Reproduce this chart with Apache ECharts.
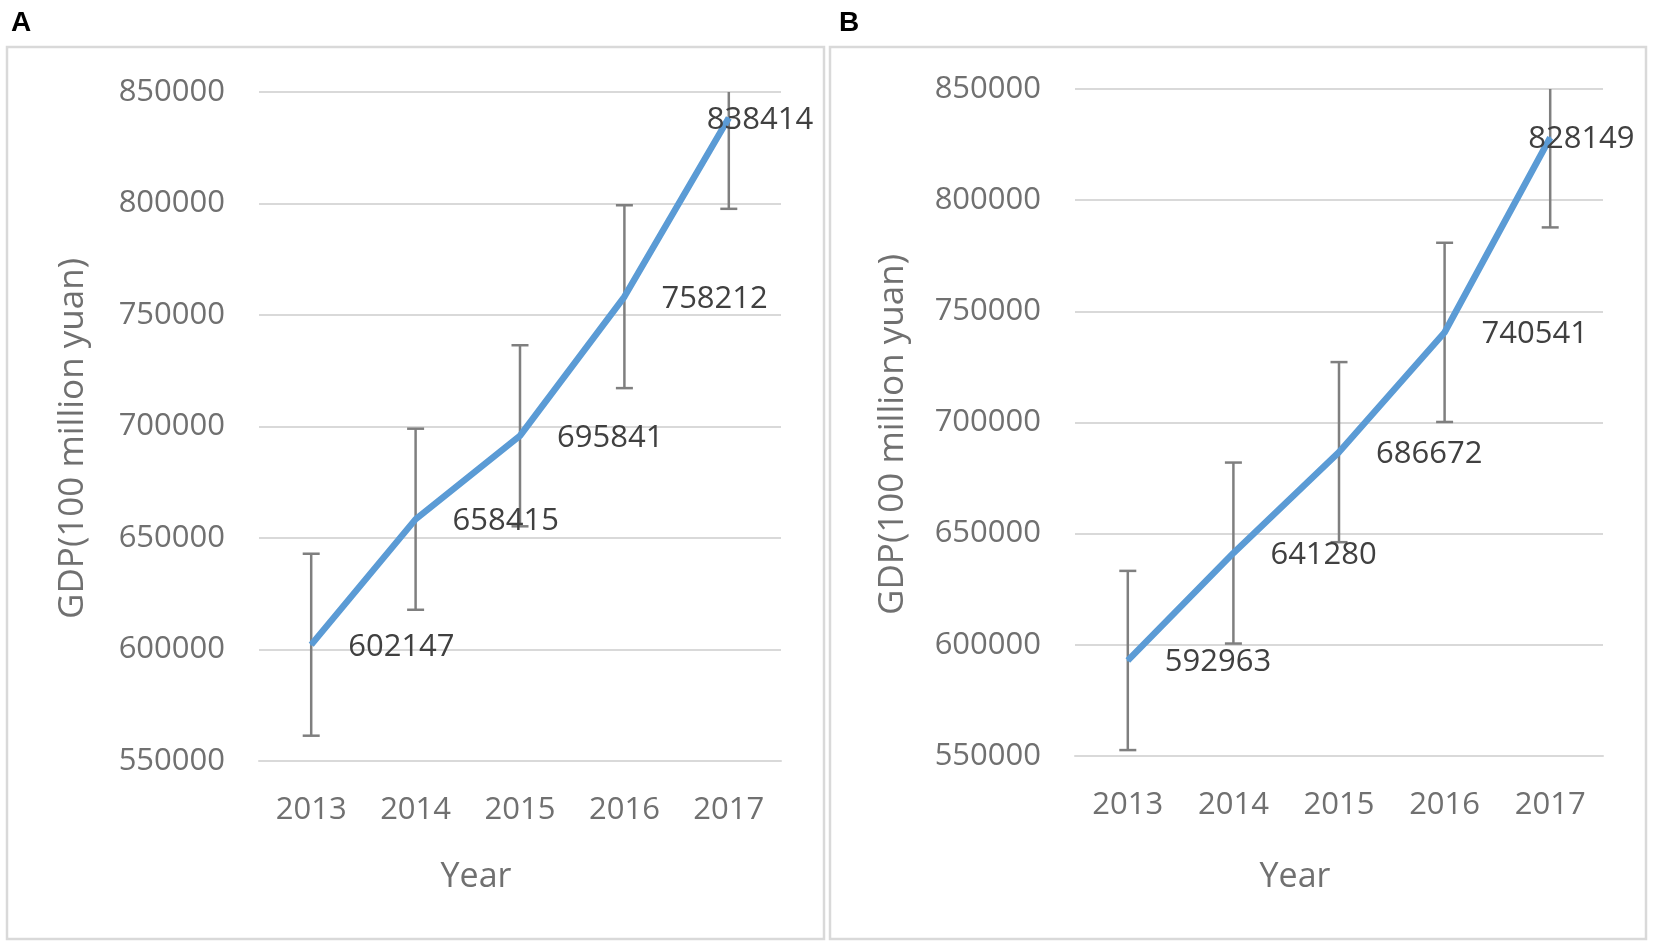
<!DOCTYPE html>
<html>
<head>
<meta charset="utf-8">
<script src="https://cdn.jsdelivr.net/npm/echarts@6/dist/echarts.min.js"></script>
<style>
  html, body { margin: 0; padding: 0; background: #fff; }
  #chart { width: 1654px; height: 946px; }
</style>
</head>
<body>
<div id="chart"></div>
<script>
// data
var years = ['2013', '2014', '2015', '2016', '2017'];
var gdpA = [602147, 658415, 695841, 758212, 838414];
var gdpB = [592963, 641280, 686672, 740541, 828149];
// half length of the error bars
var errA = [40800, 40600, 40600, 41000, 40800];
var errB = [40300, 40700, 40500, 40300, 40400];
var yMin = 550000, yMax = 850000, yStep = 50000;

var font = '"Open Sans", "Noto Sans", sans-serif';
var tickColor = '#707070';
var gridColor = '#d9d9d9';

function errData(vals, errs) {
  return vals.map(function (v, i) { return [i, v - errs[i], v + errs[i]]; });
}

function renderErr(params, api) {
  var lo = api.coord([api.value(0), api.value(1)]);
  var hi = api.coord([api.value(0), api.value(2)]);
  var half = 8.5;
  var st = { stroke: '#7f7f7f', lineWidth: 2.5 };
  return {
    type: 'group',
    children: [
      { type: 'line', shape: { x1: lo[0], y1: lo[1], x2: hi[0], y2: hi[1] }, style: st },
      { type: 'line', shape: { x1: lo[0] - half, y1: lo[1], x2: lo[0] + half, y2: lo[1] }, style: st },
      { type: 'line', shape: { x1: hi[0] - half, y1: hi[1], x2: hi[0] + half, y2: hi[1] }, style: st }
    ]
  };
}

function lineData(vals) {
  // last label is pulled back inside the plot, as in the figure
  return vals.map(function (v, i) {
    if (i === vals.length - 1) return { value: v, label: { offset: [-59, 2] } };
    return v;
  });
}

function xAxis(idx, gap) {
  return {
    type: 'category', gridIndex: idx, data: years, boundaryGap: true,
    name: 'Year', nameLocation: 'middle', nameGap: gap,
    // title sits a bit left of the plot centre
    nameTextStyle: { color: tickColor, fontSize: 34, fontFamily: font, padding: [0, 88, 0, 0] },
    axisLine: { show: true, lineStyle: { color: gridColor, width: 2 } },
    axisTick: { show: false },
    axisLabel: { color: tickColor, fontSize: 31, fontFamily: font, margin: 34 },
    splitLine: { show: false }
  };
}

function yAxis(idx, gap) {
  return {
    type: 'value', gridIndex: idx, min: yMin, max: yMax, interval: yStep,
    name: 'GDP(100 million yuan)', nameLocation: 'middle', nameGap: gap, nameRotate: 90,
    nameTextStyle: { color: tickColor, fontSize: 35, fontFamily: font, padding: [0, 24, 0, 0] },
    axisLine: { show: false }, axisTick: { show: false },
    axisLabel: { color: tickColor, fontSize: 31, fontFamily: font, margin: 34,
      formatter: function (v) { return String(v); } },
    splitLine: { show: true, lineStyle: { color: gridColor, width: 2 } }
  };
}

function lineSeries(idx, vals) {
  return {
    type: 'line', xAxisIndex: idx, yAxisIndex: idx, z: 3,
    data: lineData(vals),
    symbol: 'circle', symbolSize: 2,
    itemStyle: { color: '#5b9bd5' },
    lineStyle: { color: '#5b9bd5', width: 6.5 },
    label: { show: true, position: 'right', distance: 36, offset: [0, 2],
      color: '#404040', fontSize: 31, fontFamily: font },
    animation: false
  };
}

function errSeries(idx, vals, errs) {
  return {
    type: 'custom', xAxisIndex: idx, yAxisIndex: idx, z: 2, clip: true,
    data: errData(vals, errs), renderItem: renderErr, animation: false
  };
}

var chart = echarts.init(document.getElementById('chart'));
chart.setOption({
  backgroundColor: '#fff',
  animation: false,
  grid: [
    { left: 259, top: 92, width: 522, height: 669 },
    { left: 1075, top: 89, width: 528, height: 667 }
  ],
  xAxis: [xAxis(0, 99), xAxis(1, 104)],
  yAxis: [yAxis(0, 168), yAxis(1, 164)],
  series: [
    errSeries(0, gdpA, errA), lineSeries(0, gdpA),
    errSeries(1, gdpB, errB), lineSeries(1, gdpB)
  ],
  graphic: [
    { type: 'rect', shape: { x: 7, y: 47, width: 817, height: 892 }, style: { fill: 'none', stroke: gridColor, lineWidth: 2.5 } },
    { type: 'rect', shape: { x: 830, y: 47, width: 816, height: 892 }, style: { fill: 'none', stroke: gridColor, lineWidth: 2.5 } },
    { type: 'text', x: 11, y: 23, style: { text: 'A', fill: '#000', fontSize: 28, fontWeight: 'bold', fontFamily: '"Liberation Sans", Arial, sans-serif', verticalAlign: 'middle' } },
    { type: 'text', x: 839, y: 23, style: { text: 'B', fill: '#000', fontSize: 28, fontWeight: 'bold', fontFamily: '"Liberation Sans", Arial, sans-serif', verticalAlign: 'middle' } }
  ]
});
</script>
</body>
</html>
